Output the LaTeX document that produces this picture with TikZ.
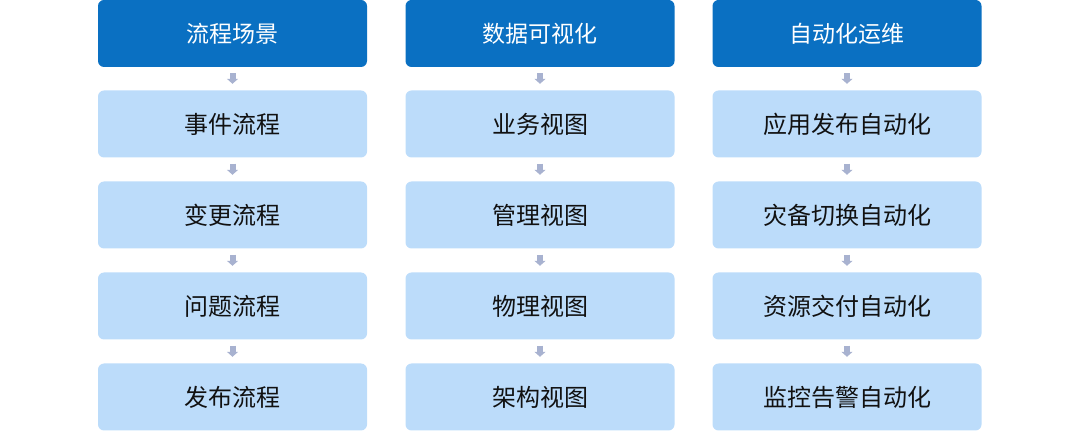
\documentclass[tikz,border=0pt]{standalone}
\usepackage{fontspec}
\newfontfamily\cjk{Noto Sans CJK SC}
\usetikzlibrary{arrows.meta}
\definecolor{headblue}{HTML}{0A70C2}
\definecolor{lightblue}{HTML}{BCDCFA}
\definecolor{arrowgray}{HTML}{A8B2D0}
\definecolor{txt}{HTML}{111111}
\tikzset{
  box/.style={rounded corners=6pt, minimum width=269pt, minimum height=67pt, inner sep=0pt},
  headbox/.style={box, fill=headblue, text=white, font=\cjk\fontsize{23pt}{26pt}\selectfont},
  itembox/.style={box, fill=lightblue, text=txt, font=\cjk\fontsize{24pt}{27pt}\selectfont},
  conn/.style={draw=arrowgray, line width=6pt, shorten <=6pt, shorten >=6.5pt, -{Triangle[width=11pt,length=5pt]}, arrowgray}
}
\begin{document}
\begin{tikzpicture}[x=1pt,y=-1pt]
\useasboundingbox (0,0) rectangle (1080,438);
% column 1
\node[headbox] (a0) at (232.5,33.5) {流程场景};
\node[itembox] (a1) at (232.5,124) {事件流程};
\node[itembox] (a2) at (232.5,215) {变更流程};
\node[itembox] (a3) at (232.5,306) {问题流程};
\node[itembox] (a4) at (232.5,397) {发布流程};
% column 2
\node[headbox] (b0) at (540,33.5) {数据可视化};
\node[itembox] (b1) at (540,124) {业务视图};
\node[itembox] (b2) at (540,215) {管理视图};
\node[itembox] (b3) at (540,306) {物理视图};
\node[itembox] (b4) at (540,397) {架构视图};
% column 3
\node[headbox] (c0) at (847,33.5) {自动化运维};
\node[itembox] (c1) at (847,124) {应用发布自动化};
\node[itembox] (c2) at (847,215) {灾备切换自动化};
\node[itembox] (c3) at (847,306) {资源交付自动化};
\node[itembox] (c4) at (847,397) {监控告警自动化};
\foreach \c in {a,b,c}{
  \draw[conn] (\c0) -- (\c1);
  \draw[conn] (\c1) -- (\c2);
  \draw[conn] (\c2) -- (\c3);
  \draw[conn] (\c3) -- (\c4);
}
\end{tikzpicture}
\end{document}
